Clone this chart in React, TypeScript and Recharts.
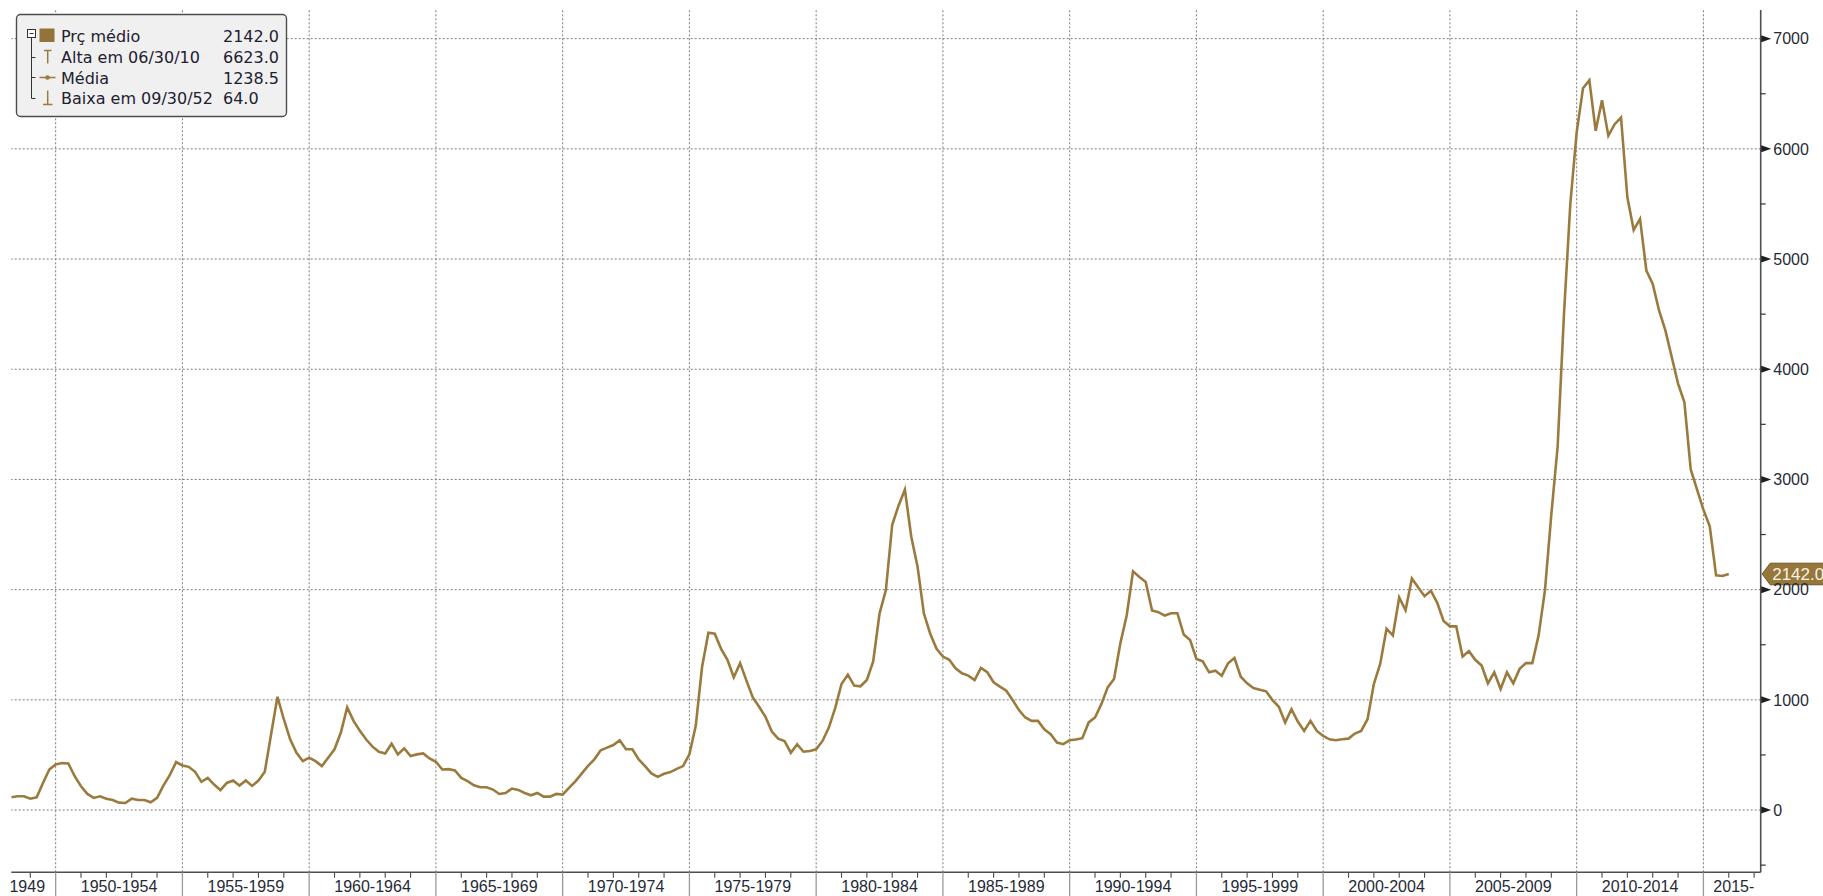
import React from 'react';
import { LineChart, Line, XAxis, YAxis, ReferenceLine } from 'recharts';

// Quarterly average price, quarter-end dates starting 1948 Q1
const firstQuarterEnd = 1948.25;
const q1940s = [116, 125, 125, 103, 116, 246, 368, 414];
const q1950s = [
  426, 423, 307, 216, 146, 110, 125, 103, 91, 67, 64, 103, 91, 91, 70, 110, 222, 316, 435, 405,
  392, 347, 256, 292, 231, 180, 246, 268, 222, 268, 219, 268, 347, 690, 1028, 824, 642, 520, 444, 475,
];
const q1960s = [
  444, 399, 475, 551, 703, 931, 809, 720, 640, 575, 529, 514, 602, 505, 560, 490, 505, 514, 468, 438,
  368, 371, 359, 292, 262, 225, 207, 207, 186, 146, 155, 195, 183, 155, 134, 155, 122, 122, 146, 140,
];
const q1970s = [
  201, 260, 330, 400, 460, 542, 566, 590, 633, 551, 551, 459, 399, 332, 301, 329, 344, 374, 399, 505,
  764, 1300, 1609, 1600, 1463, 1363, 1205, 1333, 1174, 1022, 937, 846, 712, 648, 627, 520, 596, 529, 535, 551,
];
const q1980s = [
  627, 748, 925, 1144, 1229, 1129, 1123, 1180, 1348, 1783, 1996, 2589, 2762, 2908, 2482, 2209, 1783, 1600, 1463, 1393,
  1363, 1287, 1241, 1220, 1180, 1290, 1250, 1159, 1120, 1083, 998, 907, 840, 809, 809, 733, 689, 613, 598, 634,
];
const q1990s = [
  640, 652, 795, 840, 961, 1113, 1189, 1514, 1765, 2166, 2114, 2069, 1811, 1796, 1765, 1786, 1786, 1592, 1544, 1371,
  1350, 1250, 1265, 1219, 1332, 1380, 1210, 1150, 1107, 1092, 1077, 998, 937, 794, 916, 803, 718, 809, 718, 672,
];
const q2000s = [
  642, 633, 642, 648, 694, 718, 824, 1144, 1326, 1646, 1585, 1929, 1813, 2102, 2020, 1941, 1990, 1880, 1716, 1667,
  1667, 1393, 1442, 1363, 1311, 1150, 1250, 1098, 1250, 1150, 1281, 1333, 1333, 1585, 1996, 2680, 3300, 4500, 5500, 6150,
];
const q2010s = [
  6550, 6623, 6164, 6442, 6119, 6224, 6285, 5560, 5264, 5364, 4896, 4775, 4534, 4353, 4111, 3870, 3700, 3091, 2908, 2726,
  2574, 2130, 2124, 2142,
];

const avgPrice = [...q1940s, ...q1950s, ...q1960s, ...q1970s, ...q1980s, ...q1990s, ...q2000s, ...q2010s];
const data = avgPrice.map((v, i) => ({ t: firstQuarterEnd + i * 0.25, v }));
const lastValue = avgPrice[avgPrice.length - 1];

const xDomain: [number, number] = [1948.25, 2017.26];
const yDomain: [number, number] = [-565, 7260];

const xLabelTicks = [1948.88, 1952.5, 1957.5, 1962.5, 1967.5, 1972.5, 1977.5, 1982.5, 1987.5, 1992.5, 1997.5, 2002.5, 2007.5, 2012.5, 2016.2];
const xLabelTexts = ['1949', '1950-1954', '1955-1959', '1960-1964', '1965-1969', '1970-1974', '1975-1979', '1980-1984', '1985-1989', '1990-1994', '1995-1999', '2000-2004', '2005-2009', '2010-2014', '2015-'];
const groupBoundaries = [1950, 1955, 1960, 1965, 1970, 1975, 1980, 1985, 1990, 1995, 2000, 2005, 2010, 2015];
const yearBoundaries = Array.from({ length: 69 }, (_, i) => 1949 + i).filter((y) => y % 5 !== 0);
const allXTicks = [...yearBoundaries, ...groupBoundaries, ...xLabelTicks].sort((a, b) => a - b);
const yMajorTicks = [0, 1000, 2000, 3000, 4000, 5000, 6000, 7000];
const yMinorTicks = [-500, 500, 1500, 2500, 3500, 4500, 5500, 6500];
const allYTicks = [...yMinorTicks, ...yMajorTicks].sort((a, b) => a - b);

const legendLabels = ['Prç médio', 'Alta em 06/30/10', 'Média', 'Baixa em 09/30/52'];
const legendValues = ['2142.0', '6623.0', '1238.5', '64.0'];

const LINE_COLOR = '#9b7b3d';
const AXIS_COLOR = '#4f4f4f';
const TEXT_COLOR = '#262a36';
const GRID_COLOR = '#7c7c7c';
const AXIS_FONT = "'Liberation Sans', Arial, sans-serif";

const XTick = (props: any) => {
  const { x, y, payload } = props;
  const v = payload.value;
  const li = xLabelTicks.indexOf(v);
  if (li >= 0) {
    return (
      <text x={x} y={y + 19.5} textAnchor="middle" fontFamily={AXIS_FONT} fontSize={16} fill={TEXT_COLOR}>
        {xLabelTexts[li]}
      </text>
    );
  }
  if (groupBoundaries.indexOf(v) >= 0) {
    return <line x1={x} x2={x} y1={y} y2={y + 26} stroke="#9a9a9a" strokeWidth={1.3} />;
  }
  return <line x1={x} x2={x} y1={y} y2={y + 5.5} stroke="#4a4a4a" strokeWidth={1.1} />;
};

const YTick = (props: any) => {
  const { x, y, payload } = props;
  const v = payload.value;
  if (yMajorTicks.indexOf(v) < 0) {
    return <line x1={x} x2={x + 5} y1={y} y2={y} stroke="#333333" strokeWidth={1.2} />;
  }
  return (
    <g>
      <polygon points={`${x + 0.5},${y - 3.5} ${x + 10.5},${y} ${x + 0.5},${y + 3.5}`} fill="#1e1e1e" />
      <text x={x + 12.6} y={y} dy="0.36em" textAnchor="start" fontFamily={AXIS_FONT} fontSize={16} fill={TEXT_COLOR}>
        {v}
      </text>
    </g>
  );
};

const PriceTag = (props: any) => {
  const vb = props.viewBox || {};
  const x0 = (vb.x || 0) + (vb.width || 0) + 1.5;
  const y = vb.y || 0;
  const h = 10.8;
  return (
    <g>
      <polygon
        points={`${x0},${y} ${x0 + 8},${y - h} ${x0 + 80},${y - h} ${x0 + 80},${y + h} ${x0 + 8},${y + h}`}
        fill="#977739"
        stroke="#6e5527"
        strokeWidth={1}
      />
      <text x={x0 + 10} y={y} dy="0.36em" fontFamily={AXIS_FONT} fontSize={17} fill="#f6f1e6">
        {lastValue.toFixed(1)}
      </text>
    </g>
  );
};

const Legend = () => {
  const baselines = [41.6, 63.2, 84, 104.4];
  return (
    <svg width={300} height={130} style={{ position: 'absolute', left: 0, top: 0, pointerEvents: 'none' }}>
      <rect x={16.5} y={14.5} width={270} height={102} rx={4} ry={4} fill="#f0f0f0" stroke="#4d4d4d" strokeWidth={1.4} />
      <rect x={27.5} y={29.5} width={8} height={8} fill="#ffffff" stroke="#333" strokeWidth={1} />
      <line x1={29.5} x2={33.5} y1={33.5} y2={33.5} stroke="#333" strokeWidth={1} />
      <path d="M31.5 37.5 V98.5 M31.5 57.5 H35.5 M31.5 77.5 H35.5 M31.5 98.5 H35.5" stroke="#333" strokeWidth={1} fill="none" />
      <rect x={39.5} y={28.5} width={15} height={13.5} fill="#927339" />
      <path d="M44 50.5 H51.5 M47.7 50.5 V63.5" stroke={LINE_COLOR} strokeWidth={1.5} fill="none" />
      <path d="M39.5 77.5 H55.5" stroke={LINE_COLOR} strokeWidth={1.5} fill="none" />
      <circle cx={47.5} cy={77.5} r={2.3} fill={LINE_COLOR} />
      <path d="M47.7 90.5 V104.5 M43 104.5 H52.5" stroke={LINE_COLOR} strokeWidth={1.5} fill="none" />
      {legendLabels.map((l, i) => (
        <text key={'l' + i} x={61} y={baselines[i]} fontFamily="'DejaVu Sans', sans-serif" fontSize={16} fill="#1e2030">
          {l}
        </text>
      ))}
      {legendValues.map((v, i) => (
        <text key={'v' + i} x={223} y={baselines[i]} fontFamily="'DejaVu Sans', sans-serif" fontSize={16} fill="#1e2030">
          {v}
        </text>
      ))}
    </svg>
  );
};

export default function App() {
  return (
    <div style={{ position: 'absolute', left: 0, top: 0, width: 1823, height: 896, background: '#ffffff', overflow: 'hidden' }}>
      <LineChart width={1823} height={896} data={data} margin={{ top: 10, left: 11.3, right: 0, bottom: 0 }}>
        <XAxis
          xAxisId="x"
          type="number"
          dataKey="t"
          domain={xDomain}
          allowDataOverflow
          ticks={allXTicks}
          interval={0}
          height={23.7}
          axisLine={{ stroke: AXIS_COLOR, strokeWidth: 1.6 }}
          tickLine={false}
          tickSize={0}
          tickMargin={0}
          tick={<XTick />}
        />
        <YAxis
          yAxisId="y"
          orientation="right"
          type="number"
          domain={yDomain}
          allowDataOverflow
          ticks={allYTicks}
          interval={0}
          width={62.3}
          axisLine={{ stroke: AXIS_COLOR, strokeWidth: 1.6 }}
          tickLine={false}
          tickSize={0}
          tickMargin={0}
          tick={<YTick />}
        />
        {yMajorTicks.map((v) => (
          <ReferenceLine key={'h' + v} xAxisId="x" yAxisId="y" y={v} stroke={GRID_COLOR} strokeDasharray="2 2" strokeWidth={1} />
        ))}
        {groupBoundaries.map((v) => (
          <ReferenceLine key={'v' + v} xAxisId="x" yAxisId="y" x={v} stroke={GRID_COLOR} strokeDasharray="2 2" strokeWidth={1} />
        ))}
        <Line
          xAxisId="x"
          yAxisId="y"
          type="linear"
          dataKey="v"
          stroke={LINE_COLOR}
          strokeWidth={2.6}
          dot={false}
          activeDot={false}
          isAnimationActive={false}
        />
        <ReferenceLine xAxisId="x" yAxisId="y" y={lastValue} stroke="none" ifOverflow="visible" label={<PriceTag />} />
      </LineChart>
      <Legend />
    </div>
  );
}
